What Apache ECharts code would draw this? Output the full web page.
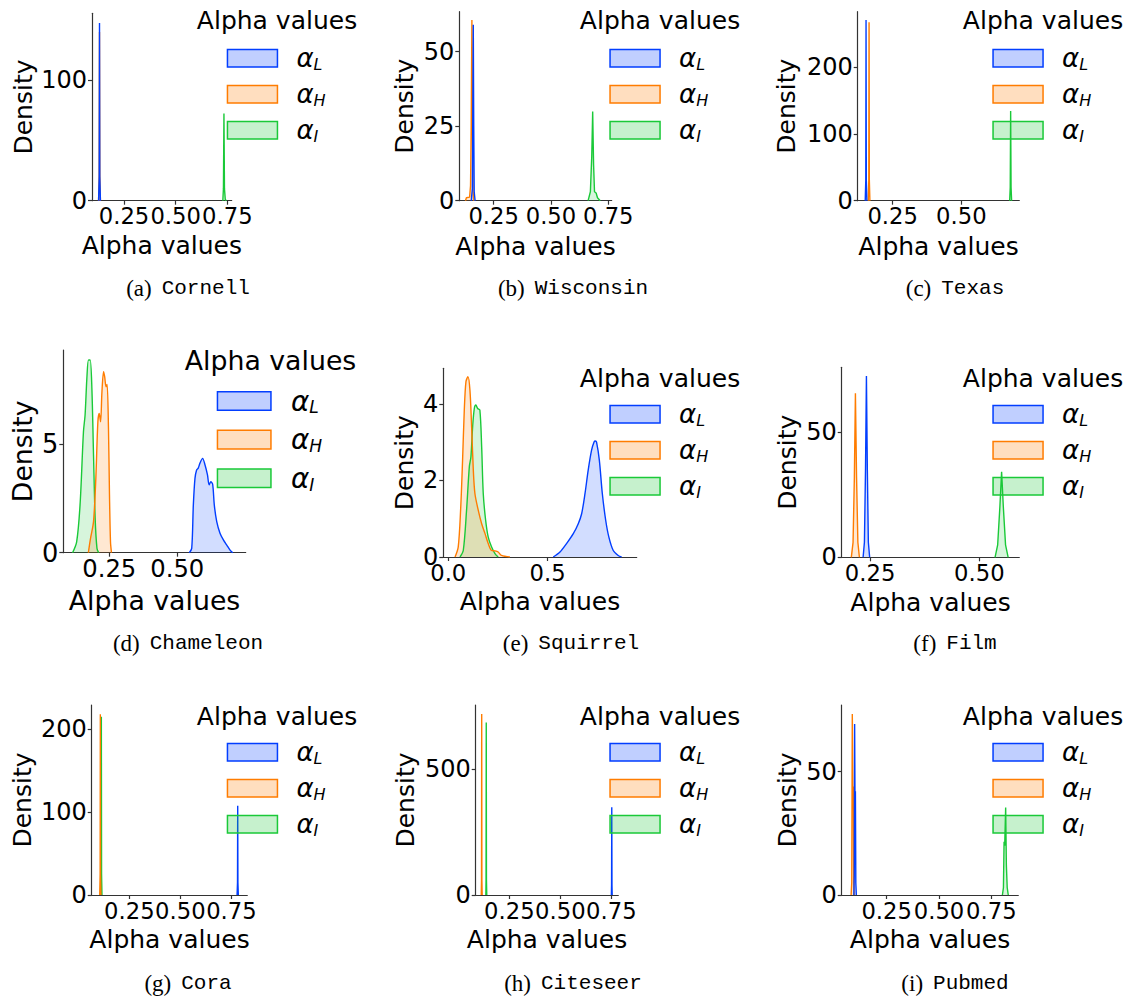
<!DOCTYPE html>
<html><head><meta charset="utf-8">
<script src="https://cdn.jsdelivr.net/npm/echarts@6/dist/echarts.min.js"></script>
<style>html,body{margin:0;padding:0;background:#fff}#c{width:1139px;height:1000px}</style>
</head><body><div id="c"></div>
<script>
// ---------- DATA ----------
const panelLetters = ['a','b','c','d','e','f','g','h','i'];
const panelNames = ['Cornell','Wisconsin','Texas','Chameleon','Squirrel','Film','Cora','Citeseer','Pubmed'];
const seriesNames = ['αL','αH','αI'];

// Cornell
const cornellL = [[0.127,0],[0.130,20],[0.1315,147.5],[0.133,20],[0.136,0]];
const cornellH = [[0.127,0],[0.130,20],[0.1315,140],[0.133,20],[0.136,0]];
const cornellI = [[0.728,0],[0.731,10],[0.7335,72.4],[0.736,10],[0.740,1],[0.745,0]];
// Wisconsin
const wiscL = [[0.152,0],[0.157,4],[0.159,30],[0.161,59],[0.163,25],[0.165,3],[0.169,0]];
const wiscH = [[0.127,0],[0.131,1],[0.145,1.2],[0.149,5],[0.152,25],[0.155,60.6],[0.157,28],[0.160,3],[0.164,0]];
const wiscI = [[0.662,0],[0.672,3],[0.678,15],[0.682,29.9],[0.686,12],[0.690,3],[0.697,2.6],[0.703,1],[0.715,0]];
// Texas
const texasL = [[0.150,0],[0.152,30],[0.153,270],[0.154,30],[0.156,0]];
const texasH = [[0.161,0],[0.163,30],[0.164,266.6],[0.165,30],[0.167,0]];
const texasI = [[0.676,0],[0.678,20],[0.6795,134],[0.681,20],[0.683,0]];
// Chameleon
const chamL = [[0.544,0],[0.553,0.2],[0.559,2.2],[0.565,3.42],[0.571,3.81],[0.577,3.89],[0.583,4.11],[0.593,4.34],[0.602,4.04],[0.611,3.58],[0.617,3.12],[0.623,3.27],[0.630,3.15],[0.636,2.2],[0.645,1.43],[0.657,0.9],[0.670,0.58],[0.682,0.35],[0.694,0.12],[0.704,0]];
const chamH = [[0.173,0],[0.181,0.66],[0.192,1.43],[0.2005,3.42],[0.208,6.03],[0.213,6.41],[0.218,6.03],[0.223,7.41],[0.229,8.33],[0.233,8.1],[0.238,7.64],[0.242,7.75],[0.247,5.72],[0.2507,2.66],[0.2544,0.5],[0.258,0]];
const chamI = [[0.115,0],[0.130,0.5],[0.1425,2.2],[0.155,5.57],[0.161,6.34],[0.1675,8.02],[0.1735,8.87],[0.1796,8.87],[0.186,7.56],[0.192,4.5],[0.198,1.58],[0.2047,0.2],[0.211,0]];
// Squirrel
const sqL = [[0.528,0],[0.562,0.13],[0.595,0.35],[0.629,0.61],[0.654,0.87],[0.671,1.13],[0.688,1.66],[0.704,2.27],[0.721,2.79],[0.734,3.01],[0.740,3.03],[0.746,3.0],[0.760,2.53],[0.775,1.66],[0.792,0.96],[0.808,0.52],[0.830,0.17],[0.855,0.04],[0.872,0]];
const sqH = [[0.034,0],[0.050,0.26],[0.062,1.22],[0.072,2.53],[0.0806,3.84],[0.089,4.58],[0.099,4.71],[0.109,4.36],[0.1175,3.4],[0.126,2.27],[0.134,1.66],[0.151,1.22],[0.168,0.87],[0.185,0.61],[0.201,0.35],[0.218,0.17],[0.235,0.16],[0.251,0.13],[0.268,0.04],[0.310,0]];
const sqI = [[0.059,0],[0.0755,0.17],[0.092,1.22],[0.106,2.36],[0.114,2.62],[0.1225,3.4],[0.131,3.88],[0.139,3.97],[0.148,3.88],[0.159,3.84],[0.168,2.88],[0.176,1.66],[0.188,0.96],[0.201,0.52],[0.218,0.26],[0.235,0.09],[0.251,0]];
// Film
const filmL = [[0.234,0],[0.237,6],[0.2395,35],[0.2416,72.5],[0.2437,35],[0.246,6],[0.249,0]];
const filmH = [[0.207,0],[0.211,6],[0.214,32],[0.2164,65.6],[0.219,32],[0.222,6],[0.2255,0]];
const filmI = [[0.536,0],[0.542,5],[0.547,20],[0.551,34.2],[0.555,20],[0.560,5],[0.566,0]];
// Cora
const coraL = [[0.778,0],[0.780,15],[0.781,107.6],[0.782,15],[0.784,0]];
const coraH = [[0.105,0],[0.107,25],[0.108,218],[0.109,25],[0.111,0]];
const coraI = [[0.110,0],[0.112,25],[0.113,214.8],[0.114,25],[0.116,0]];
// Citeseer
const citeL = [[0.750,0],[0.751,40],[0.752,349],[0.753,40],[0.754,0]];
const citeH = [[0.1125,0],[0.1138,60],[0.1147,720],[0.1156,60],[0.117,0]];
const citeI = [[0.135,0],[0.136,60],[0.137,686],[0.138,60],[0.1395,0]];
// Pubmed
const pubL = [[0.093,0],[0.095,8],[0.0968,69.3],[0.0985,40],[0.1005,42],[0.1025,5],[0.105,0]];
const pubH = [[0.080,0],[0.083,5],[0.0857,73.4],[0.0885,40],[0.0905,44],[0.0925,5],[0.095,0]];
const pubI = [[0.803,0],[0.808,3],[0.811,21.6],[0.814,20],[0.8186,35.5],[0.822,12],[0.826,3],[0.831,0]];

// tick labels
const xTicks = [[0.25,0.5,0.75],[0.25,0.5,0.75],[0.25,0.5],[0.25,0.5],[0.0,0.5],[0.25,0.5],[0.25,0.5,0.75],[0.25,0.5,0.75],[0.25,0.5,0.75]];
const yTicks = [[0,100],[0,25,50],[0,100,200],[0,5],[0,2,4],[0,50],[0,100,200],[0,500],[0,50]];
const xDecimals = [2,2,2,2,1,2,2,2,2];
// axis ranges
const xRanges = [[0.0952,0.771],[0.10,0.765],[0.1226,0.711],[0.0809,0.7515],[-0.025,0.948],[0.185,0.5915],[0.0657,0.828],[0.0853,0.784],[0.035,0.879]];
const yMaxes = [155.6,63.4,282.5,9.33,4.93,76,229,756,77];

const panelData = [
  [cornellL,cornellH,cornellI],[wiscL,wiscH,wiscI],[texasL,texasH,texasI],
  [chamL,chamH,chamI],[sqL,sqH,sqI],[filmL,filmH,filmI],
  [coraL,coraH,coraI],[citeL,citeH,citeI],[pubL,pubH,pubI]
];

// ---------- LAYOUT ----------
const grids = [
  {l:92, t:13.3, w:139.7, h:187.4},
  {l:459.3, t:11.7, w:152.4, h:189},
  {l:857.7, t:11.7, w:161.6, h:189},
  {l:63.3, t:350, w:182.4, h:202.7},
  {l:443.3, t:368.3, w:193.4, h:188.7},
  {l:841.7, t:367.3, w:177.6, h:190},
  {l:91.7, t:705, w:155.6, h:190},
  {l:475.7, t:705, w:142.6, h:190},
  {l:841.7, t:705, w:176.6, h:190}
];
const yNameGap = [56,42,58.5,27.5,26.6,42,56.7,58,42];
const xNameGap = [32.5,33.5,33.5,34.7,32,32.5,31.5,31.5,31.5];
const scale = [1,1,1,1.07,1,1,1,1,1];
const legendPos = [[226.7,45.3],[609.3,45.3],[992.3,45.3],[216.7,387],[609.3,401.3],[992.3,401.3],[226.7,739.3],[609.3,739.3],[992.3,739.3]];
const legendTitle = [[277,20.5],[660,20.5],[1043,20.5],[270.5,360.5],[660,378],[1043,378],[277,716],[660,716],[1043,716]];
const captionPos = [[188,288.3],[573,288.3],[955,288.3],[188,643.3],[571,643.3],[955,643.3],[188,983.3],[573,983.3],[955,983.3]];

const colors = ['#023eff','#ff7c00','#1ac938'];
const fills = ['rgba(2,62,255,0.25)','rgba(255,124,0,0.25)','rgba(26,201,56,0.25)'];
const FONT = 'DejaVu Sans';
const axisColor = '#333';

const option = {animation:false, backgroundColor:'#fff', grid:[], xAxis:[], yAxis:[], series:[], legend:[], graphic:[]};

for (let i = 0; i < 9; i++) {
  const g = grids[i], s = scale[i];
  option.grid.push({left:g.l, top:g.t, width:g.w, height:g.h, containLabel:false});
  const dec = xDecimals[i];
  option.xAxis.push({
    type:'value', gridIndex:i, min:xRanges[i][0], max:xRanges[i][1],
    axisLine:{show:true, onZero:false, lineStyle:{color:axisColor, width:1.2}},
    axisTick:{show:true, length:4, customValues:xTicks[i], lineStyle:{color:axisColor, width:1.2}},
    axisLabel:{customValues:xTicks[i], hideOverlap:false, formatter:v => Number(v).toFixed(dec), fontSize:22.7*s, fontFamily:FONT, color:'#000', margin:4},
    splitLine:{show:false},
    name:'Alpha values', nameLocation:'middle', nameGap:xNameGap[i],
    nameTextStyle:{fontSize:25*s, fontFamily:FONT, color:'#000'}
  });
  option.yAxis.push({
    type:'value', gridIndex:i, min:0, max:yMaxes[i],
    axisLine:{show:true, onZero:false, lineStyle:{color:axisColor, width:1.2}},
    axisTick:{show:true, length:4, customValues:yTicks[i], lineStyle:{color:axisColor, width:1.2}},
    axisLabel:{customValues:yTicks[i], hideOverlap:false, fontSize:24*s, fontFamily:FONT, color:'#000', margin:5},
    splitLine:{show:false},
    name:'Density', nameLocation:'middle', nameGap:yNameGap[i],
    nameTextStyle:{fontSize:25*s, fontFamily:FONT, color:'#000'}
  });
  // draw order: I, H, L (L on top)
  for (const k of [2,1,0]) {
    option.series.push({
      type:'line', name:seriesNames[k], xAxisIndex:i, yAxisIndex:i,
      data:panelData[i][k], symbol:'none', smooth:(i===3||i===4)?0.3:false,
      lineStyle:{color:colors[k], width:1.4}, itemStyle:{color:colors[k]},
      areaStyle:{color:fills[k]}, z:2
    });
  }
  option.legend.push({
    orient:'vertical', left:legendPos[i][0], top:legendPos[i][1], padding:0,
    itemWidth:50*s, itemHeight:17.4*s, itemGap:9*s, icon:'rect', selectedMode:false,
    data:seriesNames.map((n,k)=>({name:n, itemStyle:{color:fills[k], borderColor:colors[k], borderWidth:1.5}})),
    formatter:n => '{g|}{a|α}{s|' + n.slice(1) + '}',
    textStyle:{rich:{
      g:{width:14*s},
      a:{fontSize:26*s, fontStyle:'italic', fontFamily:FONT, color:'#000', lineHeight:28*s},
      s:{fontSize:16*s, fontStyle:'italic', fontFamily:FONT, color:'#000', lineHeight:14*s, verticalAlign:'bottom'}
    }}
  });
  option.graphic.push({
    type:'text', x:legendTitle[i][0], y:legendTitle[i][1],
    style:{text:'Alpha values', fontSize:25*s, fontFamily:FONT, fill:'#000',
      align:'center', verticalAlign:'middle', textAlign:'center', textVerticalAlign:'middle'}
  });
  option.graphic.push({
    type:'text', x:captionPos[i][0], y:captionPos[i][1],
    style:{text:'{p|(' + panelLetters[i] + ')}{sp|}{m|' + panelNames[i] + '}',
      align:'center', verticalAlign:'middle', textAlign:'center', textVerticalAlign:'middle',
      rich:{p:{fontFamily:'Liberation Serif', fontSize:23, fill:'#000'}, sp:{width:10}, m:{fontFamily:'Liberation Mono', fontSize:21, fill:'#000'}}}
  });
}

const chart = echarts.init(document.getElementById('c'), null, {renderer:'svg', width:1139, height:1000});
chart.setOption(option);
</script></body></html>
